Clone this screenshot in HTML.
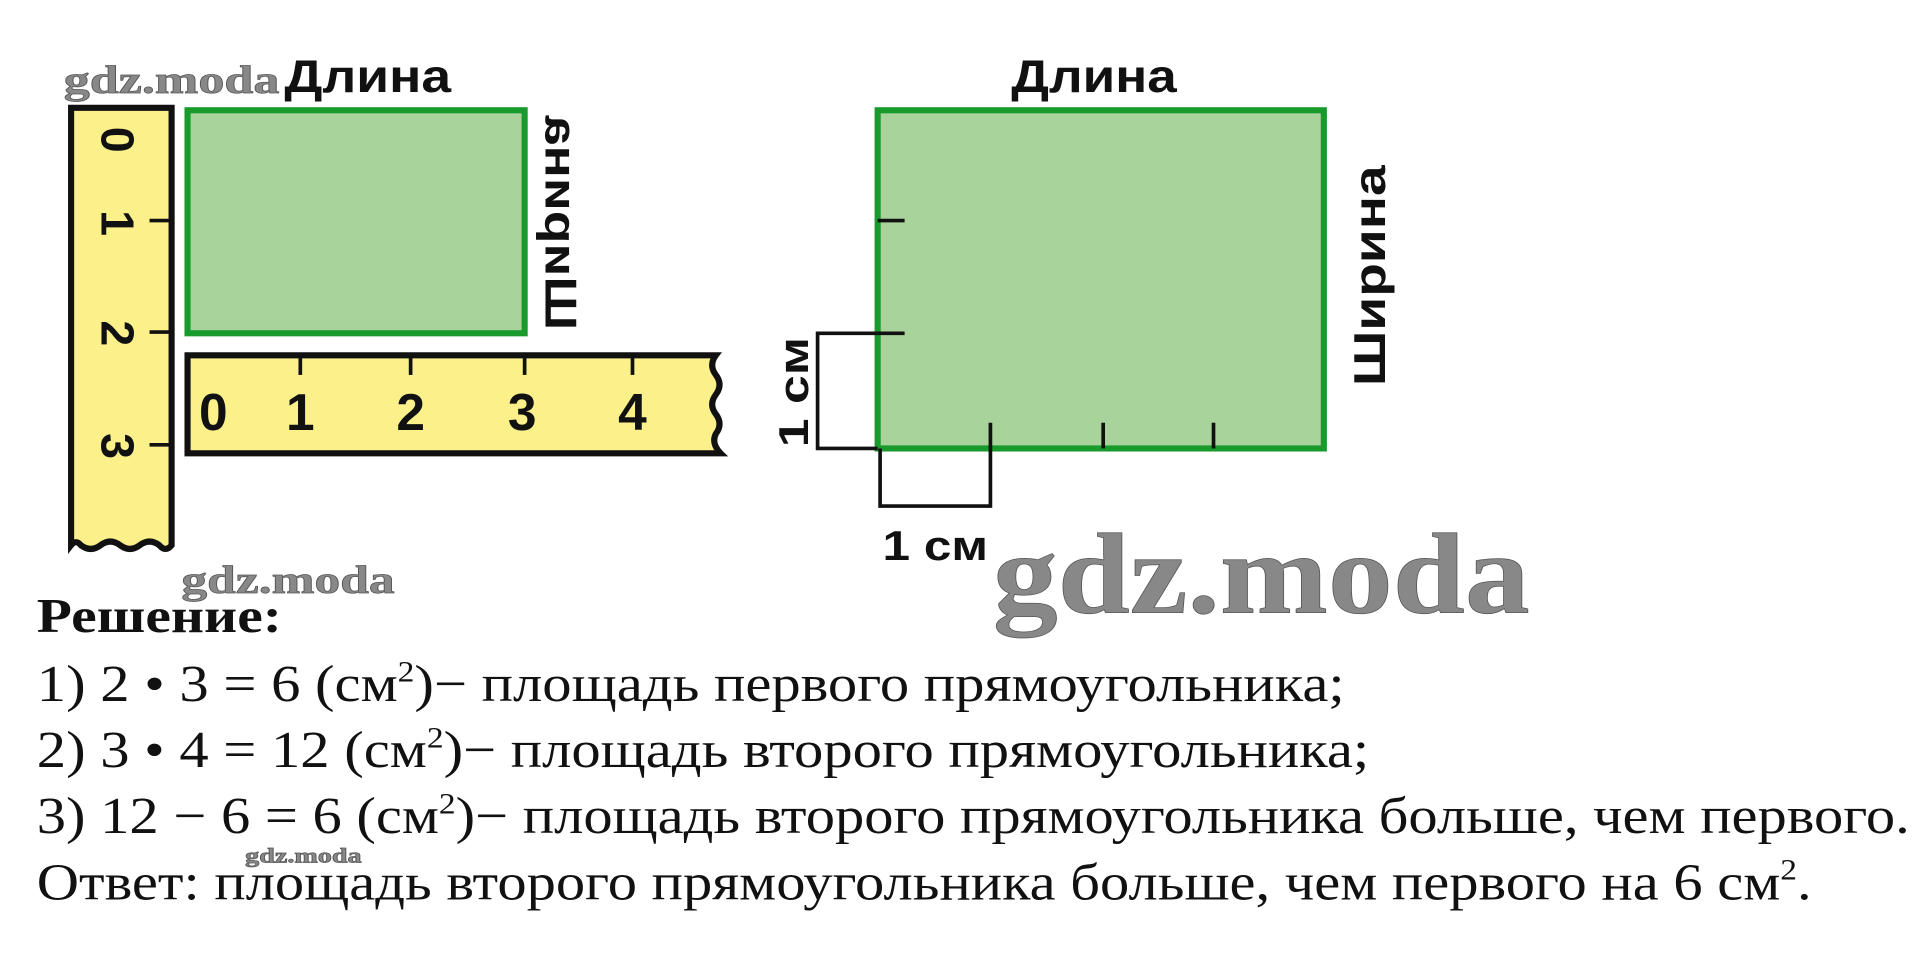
<!DOCTYPE html>
<html><head><meta charset="utf-8"><style>
html,body{margin:0;padding:0;background:#fff;width:1922px;height:979px;overflow:hidden}
svg{display:block}
.s{font-family:"Liberation Sans",sans-serif;font-weight:bold;fill:#111}
.r{font-family:"Liberation Serif",serif;fill:#111}
.w{font-family:"Liberation Serif",serif;font-weight:bold;fill:#888;stroke:#555;stroke-width:0.6}
</style></head><body>
<svg width="1922" height="979" viewBox="0 0 1568 799" preserveAspectRatio="none">
<!-- left vertical ruler -->
<path d="M58 88 H140 V445 q-5 6 -10 0 q-8 -6 -16 0 q-8 6 -16 0 q-8 -6 -16 0 q-8 6 -16 0 q-4 -5 -8 0 Z" fill="#fbf08a" stroke="#111" stroke-width="5"/>
<g stroke="#111" stroke-width="3">
<line x1="122" y1="180" x2="140" y2="180"/><line x1="122" y1="271" x2="140" y2="271"/><line x1="122" y1="363" x2="140" y2="363"/>
</g>
<g class="s" font-size="38" font-weight="normal" text-anchor="middle">
<text transform="translate(83,114) rotate(90)">0</text>
<text transform="translate(83,182) rotate(90)">1</text>
<text transform="translate(83,272) rotate(90)">2</text>
<text transform="translate(83,364) rotate(90)">3</text>
</g>
<!-- first rect -->
<rect x="153" y="90" width="275" height="182" fill="#a8d49b" stroke="#189a2c" stroke-width="5"/>
<text class="s" x="232" y="75" font-size="38" textLength="136" lengthAdjust="spacingAndGlyphs">Длина</text>
<text class="s" font-size="36" text-anchor="middle" textLength="175" lengthAdjust="spacingAndGlyphs" transform="translate(445,182) scale(-1,1) rotate(-90)">Ширина</text>
<!-- horizontal ruler -->
<path d="M153 290 H584 q-6 8 0 16 q6 8 0 16 q-6 8 0 16 q6 8 0 16 q-4 8 4 16 H153 Z" fill="#fbf08a" stroke="#111" stroke-width="5"/>
<g stroke="#111" stroke-width="3">
<line x1="245" y1="290" x2="245" y2="306"/><line x1="335" y1="290" x2="335" y2="306"/><line x1="428" y1="290" x2="428" y2="306"/><line x1="516" y1="290" x2="516" y2="306"/>
</g>
<g class="s" font-size="42" font-weight="normal" text-anchor="middle">
<text x="174" y="351">0</text><text x="245" y="351">1</text><text x="335" y="351">2</text><text x="426" y="351">3</text><text x="516" y="351">4</text>
</g>
<!-- right rect -->
<rect x="716" y="90" width="364" height="276" fill="#a8d49b" stroke="#189a2c" stroke-width="5"/>
<g stroke="#111" stroke-width="3">
<line x1="716" y1="180" x2="738" y2="180"/><line x1="716" y1="272" x2="738" y2="272"/>
<line x1="808" y1="345" x2="808" y2="366"/><line x1="900" y1="345" x2="900" y2="366"/><line x1="990" y1="345" x2="990" y2="366"/>
<polyline points="716,272 667,272 667,366 716,366" fill="none"/>
<polyline points="718,366 718,413 808,413 808,366" fill="none"/>
</g>
<text class="s" x="825" y="75" font-size="38" textLength="135" lengthAdjust="spacingAndGlyphs">Длина</text>
<text class="s" font-size="36" text-anchor="middle" textLength="180" lengthAdjust="spacingAndGlyphs" transform="translate(1130,225) rotate(-90)">Ширина</text>
<text class="s" font-size="34" text-anchor="middle" textLength="90" lengthAdjust="spacingAndGlyphs" transform="translate(659,320) rotate(-90)">1 см</text>
<text class="s" x="720" y="457" font-size="34" textLength="86" lengthAdjust="spacingAndGlyphs">1 см</text>
<!-- watermarks -->
<text class="w" x="52" y="76" font-size="32" textLength="176" lengthAdjust="spacingAndGlyphs">gdz.moda</text>
<text class="w" x="148" y="484" font-size="32" textLength="174" lengthAdjust="spacingAndGlyphs">gdz.moda</text>
<text class="w" x="200" y="704" font-size="17" textLength="95" lengthAdjust="spacingAndGlyphs">gdz.moda</text>
<text class="w" x="810" y="500" font-size="94" textLength="438" lengthAdjust="spacingAndGlyphs">gdz.moda</text>
<!-- text -->
<text class="r" x="30" y="516" font-size="40" font-weight="bold" textLength="200" lengthAdjust="spacingAndGlyphs">Решение:</text>
<g class="r" font-size="42">
<text x="30" y="572" textLength="1067" lengthAdjust="spacingAndGlyphs">1) 2 • 3 = 6 (см<tspan dy="-16" font-size="24">2</tspan><tspan dy="16">)− площадь первого прямоугольника;</tspan></text>
<text x="30" y="626" textLength="1087" lengthAdjust="spacingAndGlyphs">2) 3 • 4 = 12 (см<tspan dy="-16" font-size="24">2</tspan><tspan dy="16">)− площадь второго прямоугольника;</tspan></text>
<text x="30" y="680" textLength="1528" lengthAdjust="spacingAndGlyphs">3) 12 − 6 = 6 (см<tspan dy="-16" font-size="24">2</tspan><tspan dy="16">)− площадь второго прямоугольника больше, чем первого.</tspan></text>
<text x="30" y="734" textLength="1448" lengthAdjust="spacingAndGlyphs">Ответ: площадь второго прямоугольника больше, чем первого на 6 см<tspan dy="-16" font-size="24">2</tspan><tspan dy="16">.</tspan></text>
</g>
</svg>
</body></html>
